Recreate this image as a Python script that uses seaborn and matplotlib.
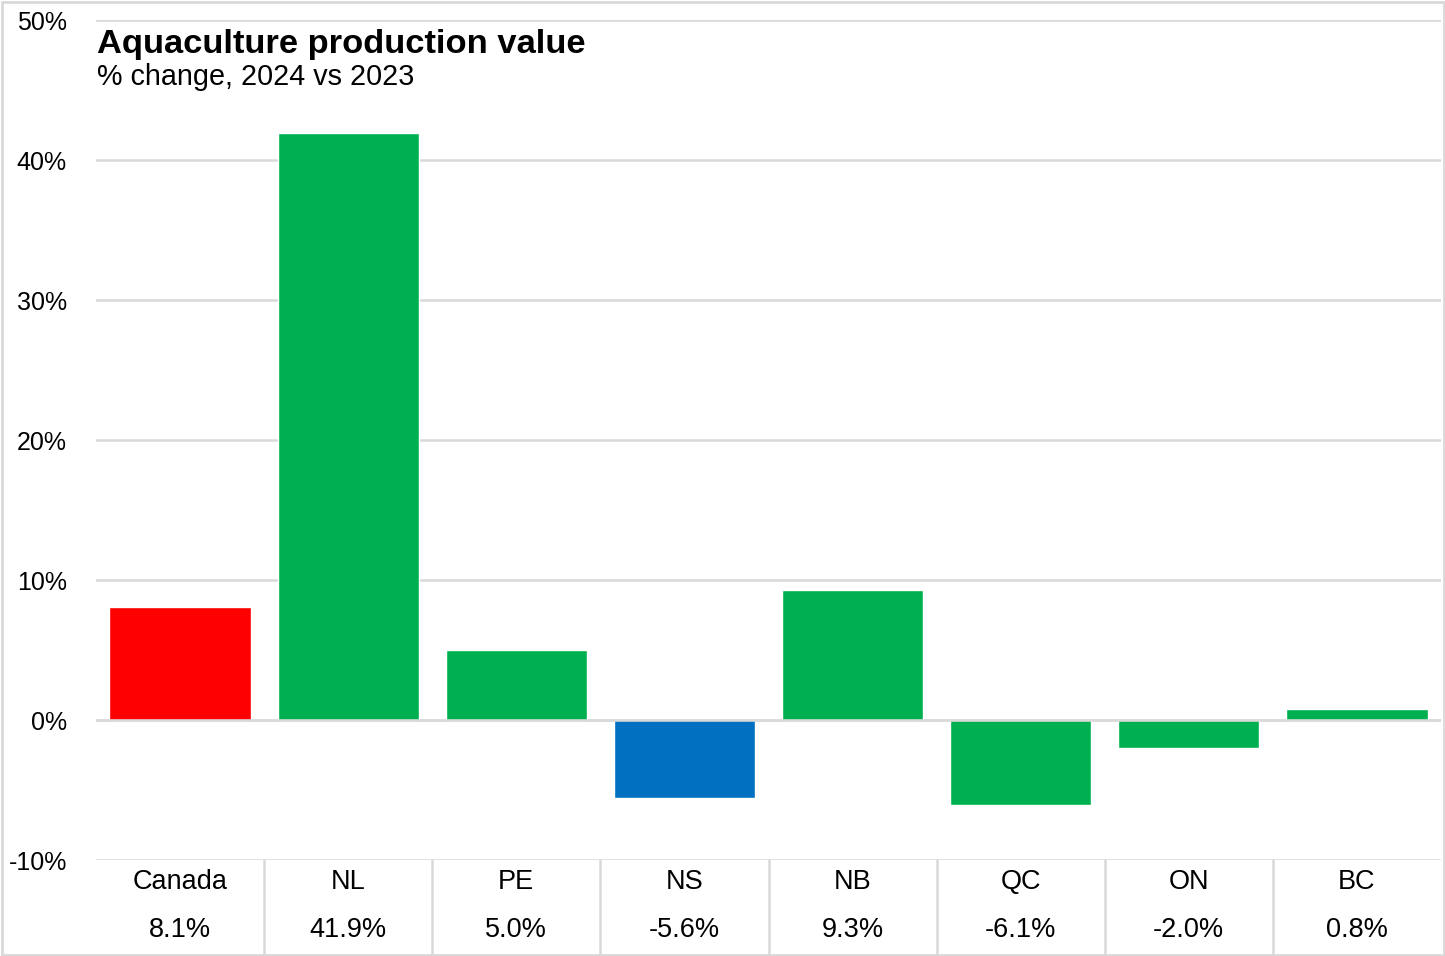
import matplotlib
matplotlib.use("Agg")
import matplotlib.pyplot as plt
import matplotlib.transforms as mtransforms
from matplotlib.patches import Rectangle
from matplotlib.ticker import FuncFormatter
import pandas as pd
import seaborn as sns

# data
regions = ["Canada", "NL", "PE", "NS", "NB", "QC", "ON", "BC"]
pct_change = [8.1, 41.9, 5.0, -5.6, 9.3, -6.1, -2.0, 0.8]
bar_colors = ["#FF0000", "#00B050", "#00B050", "#0070C0",
              "#00B050", "#00B050", "#00B050", "#00B050"]

df = pd.DataFrame({"region": regions, "change": pct_change})

sns.set_style("white")
plt.rcParams["font.family"] = ["Liberation Sans", "DejaVu Sans"]
plt.rcParams["text.color"] = "black"
plt.rcParams["ytick.color"] = "black"

W, H = 1445, 956
fig = plt.figure(figsize=(W / 100, H / 100), dpi=100)
ax = fig.add_axes([96 / W, 1 - 860 / H, (1441 - 96) / W, 840 / H])

sns.barplot(data=df, x="region", y="change", hue="region",
            palette=dict(zip(regions, bar_colors)), width=0.84,
            legend=False, ax=ax, saturation=1, zorder=2)

ax.set_ylim(-10, 50)
ax.set_xlim(-0.5, 7.5)
ax.set_yticks(range(-10, 51, 10))
ax.yaxis.set_major_formatter(FuncFormatter(lambda v, p: f"{v:.0f}%"))
ax.tick_params(axis="y", length=0, pad=21, labelsize=18, labelcolor="black")
ax.set_xticks([])
ax.set_xlabel("")
ax.set_ylabel("")
for s in ax.spines.values():
    s.set_visible(False)
ax.grid(axis="y", color="#d9d9d9", lw=1.8, zorder=0)
ax.set_axisbelow(True)
ax.axhline(0, color="#d9d9d9", lw=1.8, zorder=3)

# table below the plot
trans = mtransforms.blended_transform_factory(ax.transData, ax.transAxes)
bottom = -(953 - 860) / 840
for i in range(len(regions) - 1):
    ax.plot([i + 0.5, i + 0.5], [0, bottom], transform=trans,
            color="#d9d9d9", lw=1.8, clip_on=False)
for i, (r, v) in enumerate(zip(regions, pct_change)):
    ax.text(i, -(882 - 860) / 840, r, transform=trans, ha="center",
            va="center", fontsize=19.5, color="black")
    ax.text(i, -(930 - 860) / 840, f"{v:.1f}%", transform=trans,
            ha="center", va="center", fontsize=19.5, color="black")

# titles
fig.text(97 / W, 1 - 53 / H, "Aquaculture production value",
         fontsize=24.8, fontweight="bold", va="baseline", color="black")
fig.text(97 / W, 1 - 85 / H, "% change, 2024 vs 2023",
         fontsize=20.7, va="baseline", color="black")

# border
fig.patches.append(Rectangle((1.5 / W, 1.5 / H), 1 - 3 / W, 1 - 3 / H,
                             transform=fig.transFigure, fill=False,
                             edgecolor="#d9d9d9", lw=2))

fig.savefig("out.png", dpi=100)
